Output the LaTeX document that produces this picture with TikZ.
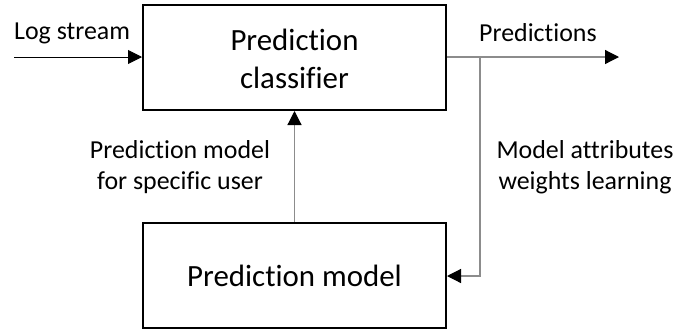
\documentclass[tikz,border=0pt]{standalone}
\usepackage{fontspec}
\setmainfont[Ligatures=NoCommon]{Carlito}
\usetikzlibrary{arrows.meta}
\begin{document}
\begin{tikzpicture}[x=1bp,y=-1bp,
  box/.style={draw=black,line width=2bp,inner sep=0pt},
  boxtext/.style={font=\fontsize{31}{38}\selectfont,align=center},
  lbl/.style={font=\fontsize{26}{31}\selectfont,align=center,inner sep=0pt},
  conn/.style={draw=black!45,line width=1.2bp},
  tip/.style={-{Triangle[length=14bp,width=14bp,color=black]}}]
\useasboundingbox (0,0) rectangle (678,329);
\node[box,minimum width=303bp,minimum height=105bp] (top) at (294.5,57.5) {};
\node[boxtext] (toptext) at (294.5,59) {Prediction\\classifier};
\node[box,minimum width=303bp,minimum height=105bp] (bot) at (294.5,275.5) {};
\node[boxtext] (bottext) at (294.5,275.5) {Prediction model};
\coordinate (lsstart) at (14,57);
\coordinate (predend) at (619,57);
\coordinate (branch) at (480,57);
\coordinate (corner) at (480,276);
\draw[tip,black,line width=0.9bp] (lsstart) -- (lsstart -| top.west);
\draw[conn] (top.east |- predend) -- (branch);
\draw[conn,tip] (branch) -- (predend);
\draw[conn,tip] (branch) -- (corner) -- (corner -| bot.east);
\draw[conn,tip] (bot.north) -- (top.south);
\node[lbl,anchor=west] (lslbl) at (14,33) {Log stream};
\node[lbl,anchor=west] (predlbl) at (479,33) {Predictions};
\node[lbl] (pmlbl) at (180,167) {Prediction model\\for specific user};
\node[lbl] (malbl) at (585,167) {Model attributes\\weights learning};
\end{tikzpicture}
\end{document}
